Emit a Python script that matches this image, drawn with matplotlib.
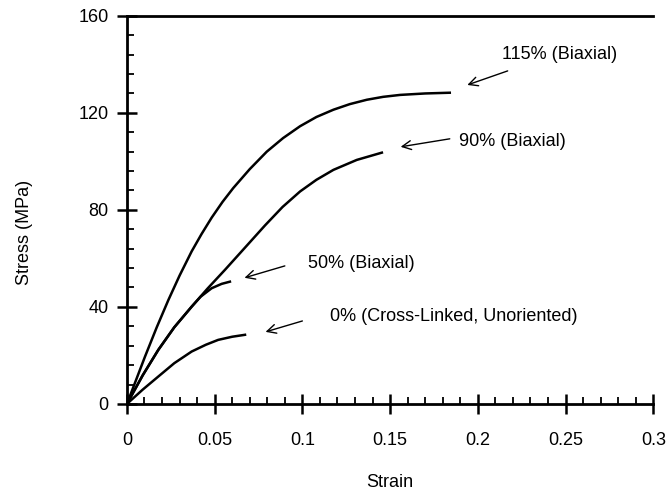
import numpy as np
import matplotlib
matplotlib.use("Agg")
import matplotlib.pyplot as plt
from matplotlib.ticker import MultipleLocator

plt.rcParams['font.family'] = ['Liberation Sans', 'DejaVu Sans']

# stress-strain curves
strain_115 = [0, 0.0103, 0.017, 0.0236, 0.030, 0.0369, 0.0425, 0.0483, 0.0545, 0.0606, 0.070, 0.0797,
              0.089, 0.0987, 0.108, 0.1177, 0.127, 0.1367, 0.146, 0.1557, 0.17, 0.184]
stress_115 = [0, 19.5, 31.6, 42.8, 52.9, 62.9, 70.0, 76.8, 83.3, 89.0, 96.8, 104,
              109.6, 114.5, 118.3, 121.3, 123.6, 125.4, 126.6, 127.4, 128, 128.3]

strain_90 = [0, 0.009, 0.0179, 0.027, 0.0369, 0.046, 0.0559, 0.067, 0.0787, 0.0887, 0.0987,
             0.108, 0.1177, 0.131, 0.1453]
stress_90 = [0, 11.8, 22.3, 31.6, 40.1, 47.6, 55.3, 64.2, 73.6, 81.2, 87.6,
             92.4, 96.5, 100.6, 103.6]

strain_50 = [0, 0.009, 0.0179, 0.027, 0.0369, 0.042, 0.0483, 0.054, 0.0587]
stress_50 = [0, 11.8, 22.3, 31.6, 40.1, 44.2, 47.7, 49.5, 50.4]

strain_0 = [0, 0.009, 0.0179, 0.027, 0.0369, 0.045, 0.052, 0.060, 0.0673]
stress_0 = [0, 5.9, 11.3, 16.8, 21.6, 24.4, 26.4, 27.7, 28.5]

labels = ["115% (Biaxial)", "90% (Biaxial)", "50% (Biaxial)", "0% (Cross-Linked, Unoriented)"]
text_pos = [(0.214, 144), (0.189, 108), (0.103, 58), (0.116, 36)]
arrow_tail = [(0.217, 137.3), (0.184, 109.3), (0.090, 56.9), (0.100, 34.2)]
arrow_head = [(0.194, 131.5), (0.156, 106.0), (0.067, 52.0), (0.079, 29.7)]

fig = plt.figure(figsize=(6.68, 4.95), dpi=100)
ax = fig.add_axes([0.190, 0.184, 0.788, 0.784])

for x, y in [(strain_115, stress_115), (strain_90, stress_90),
             (strain_50, stress_50), (strain_0, stress_0)]:
    ax.plot(x, y, color="black", lw=1.8, solid_joinstyle="round")

for lab, tp, tail, head in zip(labels, text_pos, arrow_tail, arrow_head):
    ax.text(tp[0], tp[1], lab, fontsize=13, ha="left", va="center")
    ax.annotate("", xy=head, xytext=tail,
                arrowprops=dict(arrowstyle="->", lw=1.0, color="black",
                                mutation_scale=16, shrinkA=0, shrinkB=0))

ax.set_xlim(0, 0.3)
ax.set_ylim(0, 160)
ax.set_xticks([0, 0.05, 0.1, 0.15, 0.2, 0.25, 0.3])
ax.set_xticklabels(["0", "0.05", "0.1", "0.15", "0.2", "0.25", "0.3"])
ax.set_yticks([0, 40, 80, 120, 160])
ax.xaxis.set_minor_locator(MultipleLocator(0.01))
ax.yaxis.set_minor_locator(MultipleLocator(8))

ax.tick_params(which="major", direction="inout", length=14, width=1.8, labelsize=13)
ax.tick_params(which="minor", direction="in", length=5, width=1.3)
ax.tick_params(axis="x", which="major", pad=13)
ax.tick_params(axis="y", which="major", pad=6)

ax.spines["right"].set_visible(False)
for s in ["left", "bottom", "top"]:
    ax.spines[s].set_linewidth(2)

ax.set_xlabel("Strain", fontsize=13)
ax.set_ylabel("Stress (MPa)", fontsize=13)
ax.xaxis.set_label_coords(0.5, -0.18)
ax.yaxis.set_label_coords(-0.178, 0.443)

fig.savefig("out.png", dpi=100)
